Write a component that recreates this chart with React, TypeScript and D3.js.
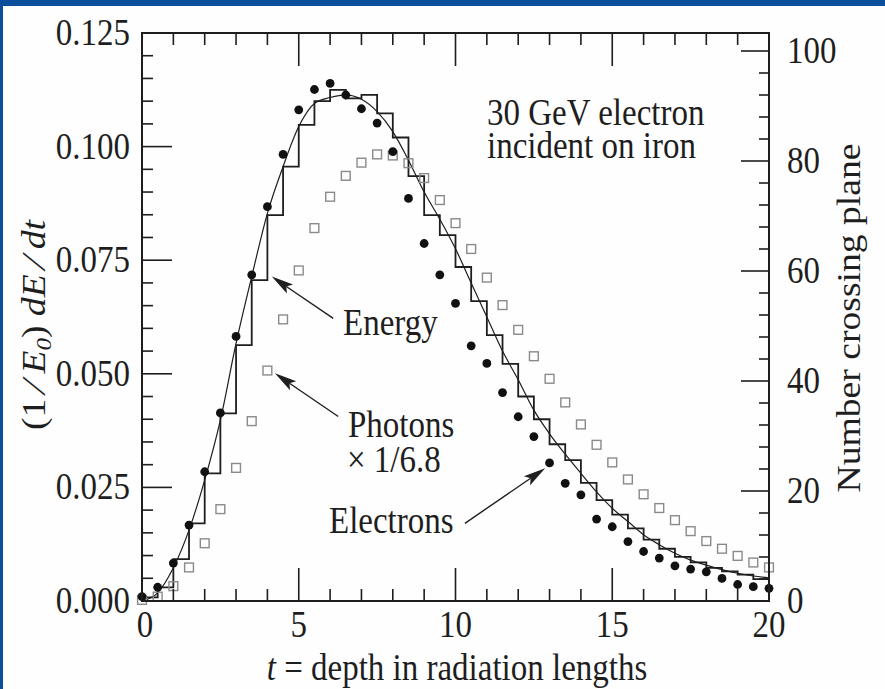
import React from 'react';
import * as d3 from 'd3';

const width = 885;
const height = 689;
const SY = 1.14; // the scan is stretched vertically, so is the lettering
const FONT = '"Liberation Serif", "Times New Roman", serif';
const INK = '#1e1e1e';

// depth t in radiation lengths
const depth = [0, 0.5, 1, 1.5, 2, 2.5, 3, 3.5, 4, 4.5, 5, 5.5, 6, 6.5, 7, 7.5, 8, 8.5, 9, 9.5, 10,
  10.5, 11, 11.5, 12, 12.5, 13, 13.5, 14, 14.5, 15, 15.5, 16, 16.5, 17, 17.5, 18, 18.5, 19, 19.5, 20];

// number crossing plane (right axis)
const electrons = [0.8, 2.5, 6.9, 13.8, 23.5, 34.2, 48.1, 59.3, 71.7, 81.2, 89.3, 93.0, 94.1, 92.0, 89.5,
  86.9, 81.7, 73.2, 65.0, 59.3, 54.1, 46.4, 43.2, 37.9, 33.5, 29.9, 25.1, 21.4, 19.3, 14.9, 13.5,
  10.8, 9.0, 7.8, 6.4, 5.8, 5.3, 4.1, 3.0, 2.6, 2.3];
const photons = [0.2, 0.8, 2.7, 6.1, 10.5, 16.7, 24.2, 32.7, 41.9, 51.2, 60.1, 67.8, 73.5, 77.3, 79.7,
  81.2, 81.0, 79.6, 76.9, 72.9, 68.7, 64.0, 58.8, 53.8, 49.3, 44.5, 40.4, 36.1, 32.1, 28.4, 25.2,
  22.1, 19.4, 16.9, 14.7, 12.7, 10.9, 9.5, 8.2, 7.0, 6.1];

// (1/E0) dE/dt (left axis): smooth fit and histogram of 0.5 X0 bins
const energyCurve = [0, 0.0018, 0.0073, 0.0156, 0.0266, 0.0398, 0.0567, 0.0714, 0.0853, 0.0956, 0.1044,
  0.1095, 0.1108, 0.1114, 0.1104, 0.1077, 0.1033, 0.097, 0.090, 0.084, 0.0775, 0.070, 0.0625, 0.055,
  0.0487, 0.042, 0.0368, 0.0323, 0.0281, 0.024, 0.0204, 0.0175, 0.0146, 0.0124, 0.0105, 0.009,
  0.0079, 0.0069, 0.0061, 0.0055, 0.0051];
const energyHist = [0.0008, 0.003, 0.0092, 0.0171, 0.0281, 0.0413, 0.0563, 0.0706, 0.0849, 0.0956,
  0.1048, 0.110, 0.1125, 0.1106, 0.1114, 0.1073, 0.102, 0.0935, 0.0849, 0.0805, 0.0735, 0.066, 0.0585,
  0.0522, 0.045, 0.040, 0.0345, 0.031, 0.026, 0.0222, 0.019, 0.016, 0.0135, 0.0115, 0.0097, 0.0085,
  0.0073, 0.0065, 0.0058, 0.0048];

const xTickLabels = [0, 5, 10, 15, 20];
const leftTickLabels = ['0.000', '0.025', '0.050', '0.075', '0.100', '0.125'];
const rightTickLabels = [0, 20, 40, 60, 80, 100];

// annotation arrows: [t, value] of tail and tip on the left scale
const arrows = [
  { name: 'Energy', from: [6.1, 0.0622], to: [4.14, 0.0714] },
  { name: 'Photons', from: [6.26, 0.0406], to: [4.24, 0.0501] },
  { name: 'Electrons', from: [10.3, 0.0171], to: [12.86, 0.0292] },
];

const x = d3.scaleLinear().domain([0, 20]).range([142, 769]);
const yL = d3.scaleLinear().domain([0, 0.125]).range([601, 33]);
const yR = d3.scaleLinear().domain([0, 100]).range([601, 51]);

function Txt({ x, y, anchor = 'start', size = 33, children }) {
  return (
    <text transform={`translate(${x},${y}) scale(1,${SY})`} textAnchor={anchor}
      fontFamily={FONT} fontSize={size} fill={INK}>
      {children}
    </text>
  );
}

function Arrow({ from, to }) {
  const x1 = x(from[0]), y1 = yL(from[1]);
  const x2 = x(to[0]), y2 = yL(to[1]);
  const a = Math.atan2(y2 - y1, x2 - x1);
  const len = 22, hw = 5.5;
  const bx = x2 - len * Math.cos(a), by = y2 - len * Math.sin(a);
  const mx = x2 - len * 0.8 * Math.cos(a), my = y2 - len * 0.8 * Math.sin(a);
  const px = -Math.sin(a) * hw, py = Math.cos(a) * hw;
  const head = `M${x2},${y2}L${bx + px},${by + py}L${mx},${my}L${bx - px},${by - py}Z`;
  return (
    <g>
      <line x1={x1} y1={y1} x2={mx} y2={my} stroke={INK} strokeWidth={1.4} />
      <path d={head} fill={INK} />
    </g>
  );
}

export default function App() {
  const [x0, x1] = x.range();
  const [yb, yt] = yL.range();

  const histPts = energyHist.map((v, i) => [depth[i], v]);
  histPts.push([20, energyHist[energyHist.length - 1]]);
  const histPath = d3.line().x(d => x(d[0])).y(d => yL(d[1])).curve(d3.curveStepAfter)([[0, 0], ...histPts]);
  const curvePath = d3.line().x((d, i) => x(depth[i])).y(d => yL(d)).curve(d3.curveMonotoneX)(energyCurve);

  const xMinor = x.ticks(20);
  const leftMinor = yL.ticks(25);
  const rightMinor = d3.range(0, 101, 4);

  return (
    <svg width={width} height={height} style={{ position: 'absolute', left: 0, top: 0 }}>
      <rect width={width} height={height} fill="#0b4e9c" />
      <rect x={3} y={6} width={width - 3} height={height - 6} fill="#fefefe" />

      {/* data */}
      <path d={histPath} fill="none" stroke={INK} strokeWidth={1.8} />
      <path d={curvePath} fill="none" stroke={INK} strokeWidth={1.2} />
      {photons.map((n, i) => (
        <rect key={'p' + i} x={x(depth[i]) - 4.4} y={yR(n) - 4.4} width={8.8} height={8.8}
          fill="none" stroke="#8a8a8a" strokeWidth={1.4} />
      ))}
      {electrons.map((n, i) => (
        <circle key={'e' + i} cx={x(depth[i])} cy={yR(n)} r={4.4} fill="#111" />
      ))}

      {/* frame and ticks */}
      <rect x={x0} y={yt} width={x1 - x0} height={yb - yt} fill="none" stroke={INK} strokeWidth={2} />
      {xMinor.map(t => {
        const major = t % 5 === 0;
        const l = major ? 33 : 12;
        return (
          <g key={'xt' + t} stroke={INK} strokeWidth={1.6}>
            <line x1={x(t)} x2={x(t)} y1={yb} y2={yb - l} />
            <line x1={x(t)} x2={x(t)} y1={yt} y2={yt + l} />
          </g>
        );
      })}
      {leftMinor.map(v => {
        const major = Math.abs(v / 0.025 - Math.round(v / 0.025)) < 1e-6;
        return <line key={'yl' + v} x1={x0} x2={x0 + (major ? 30 : 11)} y1={yL(v)} y2={yL(v)} stroke={INK} strokeWidth={1.6} />;
      })}
      {rightMinor.map(n => (
        <line key={'yr' + n} x1={x1} x2={x1 - (n % 20 === 0 ? 28 : 10)} y1={yR(n)} y2={yR(n)} stroke={INK} strokeWidth={1.6} />
      ))}

      {/* tick labels */}
      {xTickLabels.map(t => (
        <Txt key={'xl' + t} x={x(t) + (t === 0 ? 3 : 0)} y={637} anchor="middle">{t}</Txt>
      ))}
      {leftTickLabels.map(s => (
        <Txt key={'ll' + s} x={130} y={yL(+s) + 12} anchor="end">{s}</Txt>
      ))}
      {rightTickLabels.map(n => (
        <Txt key={'rl' + n} x={787} y={yR(n) + 12}>{n}</Txt>
      ))}

      {/* axis titles */}
      <Txt x={457} y={680} anchor="middle">
        <tspan fontStyle="italic">t</tspan> = depth in radiation lengths
      </Txt>
      <text transform={`translate(45,325) rotate(-90) scale(${SY},1)`} textAnchor="middle"
        fontFamily={FONT} fontSize={33} fill={INK}>
        (1 ⁄ <tspan fontStyle="italic">E</tspan><tspan fontSize={22} dy={6} fontStyle="italic">0</tspan>
        <tspan dy={-6}>) </tspan><tspan fontStyle="italic">dE</tspan> ⁄ <tspan fontStyle="italic">dt</tspan>
      </text>
      <text transform={`translate(860,318) rotate(-90) scale(${SY},1)`} textAnchor="middle"
        fontFamily={FONT} fontSize={33} fill={INK}>
        Number crossing plane
      </text>

      {/* annotations */}
      <Txt x={487} y={125}>30 GeV electron</Txt>
      <Txt x={487} y={158}>incident on iron</Txt>
      <Txt x={343} y={335}>Energy</Txt>
      <Txt x={348} y={437}>Photons</Txt>
      <Txt x={347} y={472}>× 1/6.8</Txt>
      <Txt x={329} y={533}>Electrons</Txt>
      {arrows.map(a => <Arrow key={a.name} from={a.from} to={a.to} />)}
    </svg>
  );
}
